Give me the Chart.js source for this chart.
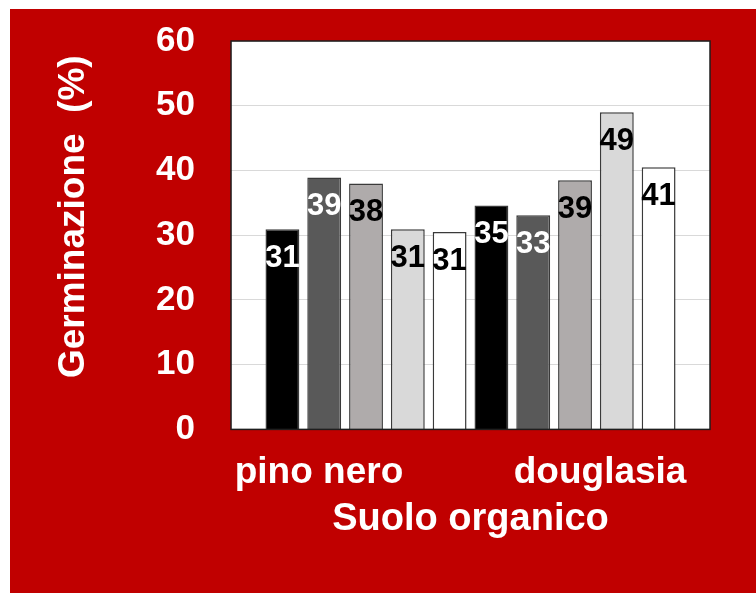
<!DOCTYPE html>
<html><head><meta charset="utf-8">
<script src="https://cdn.jsdelivr.net/npm/chart.js@4.4.0/dist/chart.umd.min.js"></script>
<style>
html,body{margin:0;padding:0;background:#ffffff;}
#wrap{position:absolute;left:10px;top:9px;width:746px;height:584px;background:#C00000;}
canvas{display:block;}
</style></head><body>
<div id="wrap"><canvas id="c" width="746" height="584"></canvas></div>
<script>
// ---- data ----
const categories = ['pino nero', 'douglasia'];
const seriesNames = ['Serie 1', 'Serie 2', 'Serie 3', 'Serie 4', 'Serie 5'];
const serie1 = [30.9, 34.6];
const serie2 = [38.9, 33.1];
const serie3 = [38.0, 38.5];
const serie4 = [30.9, 49.0];
const serie5 = [30.5, 40.5];
const yMin = 0, yMax = 60, yStep = 10;
const yTitle = 'Germinazione  (%)';
const xTitle = 'Suolo organico';

// ---- style ----
const FONT = '"Liberation Sans", Arial, sans-serif';
const fills = ['#000000', '#595959', '#AFABAB', '#D9D9D9', '#FFFFFF'];
const labelColors = ['#FFFFFF', '#FFFFFF', '#000000', '#000000', '#000000'];
const groupSpanFraction = 0.8727;      // share of plot width used by the bar groups
const tickLabelPos = [-0.225, 1.12];   // where the category captions sit (category units)

const allSeries = [serie1, serie2, serie3, serie4, serie5];

const plotFrame = {
  id: 'plotFrame',
  beforeDraw(chart) {
    const a = chart.chartArea, ctx = chart.ctx;
    ctx.save(); ctx.fillStyle = '#FFFFFF';
    ctx.fillRect(a.left, a.top, a.right - a.left, a.bottom - a.top);
    ctx.restore();
  },
  afterDatasetsDraw(chart) {
    const ctx = chart.ctx;
    chart.data.datasets.forEach((ds, di) => {
      const meta = chart.getDatasetMeta(di);
      meta.data.forEach((bar, i) => {
        ctx.save();
        ctx.font = 'bold 31px ' + FONT;
        ctx.fillStyle = labelColors[di];
        ctx.textAlign = 'center';
        ctx.textBaseline = 'middle';
        ctx.fillText(String(Math.round(ds.data[i])), bar.x, bar.y + 29);
        ctx.restore();
      });
    });
    const a = chart.chartArea;
    ctx.save();
    ctx.strokeStyle = '#1E1E1E'; ctx.lineWidth = 1.5;
    ctx.strokeRect(a.left, a.top, a.right - a.left, a.bottom - a.top);
    ctx.restore();
  }
};

new Chart(document.getElementById('c'), {
  type: 'bar',
  data: {
    labels: categories,
    datasets: allSeries.map((s, i) => ({
      label: seriesNames[i],
      data: s,
      backgroundColor: fills[i],
      borderColor: '#3A3A3A',
      borderWidth: 1.5,
      categoryPercentage: 1.0,
      barPercentage: 0.81
    }))
  },
  options: {
    responsive: false,
    animation: false,
    devicePixelRatio: 1,
    layout: { padding: { left: 20, right: 46, top: 32, bottom: 51 } },
    plugins: { legend: { display: false }, tooltip: { enabled: false } },
    scales: {
      x: {
        type: 'category',
        afterBuildTicks(scale) {
          scale._valueRange = categories.length / groupSpanFraction;
          scale._startValue = (categories.length - 1) / 2 - scale._valueRange / 2;
          scale.ticks = tickLabelPos.map(v => ({ value: v }));
        },
        grid: { display: false, drawTicks: false },
        border: { display: false },
        ticks: {
          autoSkip: false, maxRotation: 0, minRotation: 0, padding: 25,
          color: '#FFFFFF', font: { family: FONT, size: 37, weight: 'bold', lineHeight: 1.0 },
          callback: (v, i) => categories[i]
        },
        title: {
          display: true, text: xTitle, color: '#FFFFFF',
          font: { family: FONT, size: 38, weight: 'bold' },
          padding: { top: -20, bottom: 0 }
        }
      },
      y: {
        min: yMin, max: yMax,
        afterFit(scale) { scale.paddingTop = 0; scale.paddingBottom = 0; },
        grid: { color: '#D9D9D9', lineWidth: 1, drawTicks: false },
        border: { display: false },
        ticks: {
          stepSize: yStep, padding: 36, color: '#FFFFFF',
          font: { family: FONT, size: 35, weight: 'bold' }
        },
        title: {
          display: true, text: '\u2002\u2002' + yTitle, color: '#FFFFFF',
          font: { family: FONT, size: 37, weight: 'bold' },
          padding: { top: 22, bottom: 23.7 }
        }
      }
    }
  },
  plugins: [plotFrame]
});
</script>
</body></html>
